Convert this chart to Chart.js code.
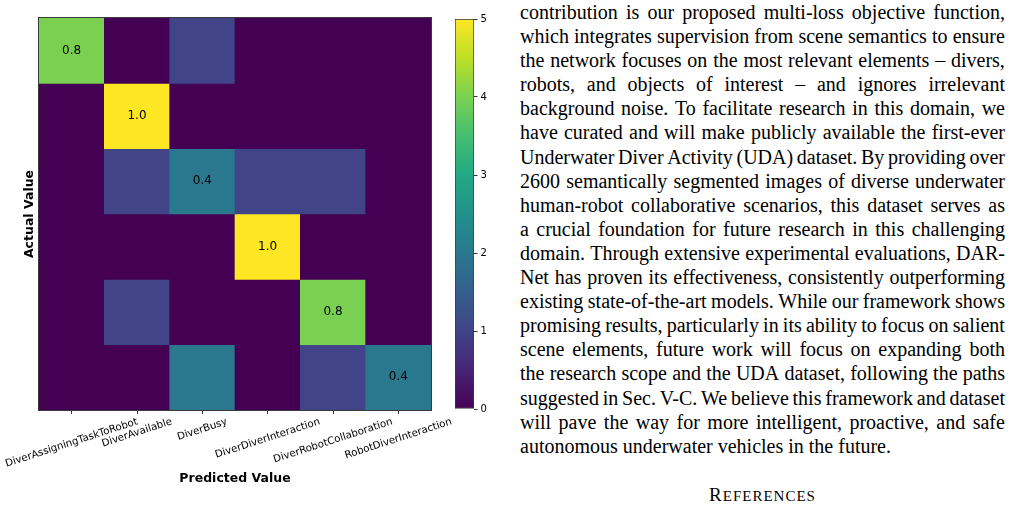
<!DOCTYPE html>
<html>
<head>
<meta charset="utf-8">
<script src="https://cdn.jsdelivr.net/npm/chart.js@4"></script>
<style>
body { margin: 0; background: #fff; width: 1017px; height: 509px; overflow: hidden; position: relative; }
#heat { position: absolute; left: 0; top: 0; }
#cbar { position: absolute; left: 440px; top: 0; }
#text { position: absolute; left: 520px; top: 0px; width: 485px; font-family: 'Liberation Serif', 'Times New Roman', serif; font-size: 20px; line-height: 24.1px; color: #000; }
#text .ln { display: flex; justify-content: space-between; white-space: nowrap; }
#text .last { white-space: nowrap; }
#refs { position: absolute; left: 520px; width: 485px; top: 483px; line-height: 24px; text-align: center; font-family: 'Liberation Serif', 'Times New Roman', serif; color: #000; }
#refs .big { font-size: 19px; letter-spacing: 1px; }
#refs .sc { font-size: 15px; letter-spacing: 1px; }
</style>
</head>
<body>
<canvas id="heat" width="500" height="509"></canvas>
<canvas id="cbar" width="60" height="509"></canvas>
<div id="text"></div>
<div id="refs"><span class="big">R</span><span class="sc">EFERENCES</span></div>
<script>
// data
const predicted = ['DiverAssigningTaskToRobot', 'DiverAvailable', 'DiverBusy', 'DiverDiverInteraction', 'DiverRobotCollaboration', 'RobotDiverInteraction']
const actual = ['DiverAssigningTaskToRobot', 'DiverAvailable', 'DiverBusy', 'DiverDiverInteraction', 'DiverRobotCollaboration', 'RobotDiverInteraction']
// counts, one row per actual class
const row_assign = [4, 0, 1, 0, 0, 0]
const row_avail = [0, 5, 0, 0, 0, 0]
const row_busy = [0, 1, 2, 1, 1, 0]
const row_dd = [0, 0, 0, 5, 0, 0]
const row_drc = [0, 1, 0, 0, 4, 0]
const row_rdi = [0, 0, 2, 0, 1, 2]
const counts = [row_assign, row_avail, row_busy, row_dd, row_drc, row_rdi]
const diag_text = ['0.8', '1.0', '0.4', '1.0', '0.8', '0.4']
const cbar_min = 0
const cbar_max = 5

const viridis = ['#440154', '#482475', '#414487', '#355f8d', '#2a788e', '#21918c', '#22a884', '#44bf70', '#7ad151', '#bddf26', '#fde725']

function hexToRgb(h) {
    return [parseInt(h.slice(1, 3), 16), parseInt(h.slice(3, 5), 16), parseInt(h.slice(5, 7), 16)]
}
function viridisColor(t) {
    t = Math.max(0, Math.min(1, t))
    const pos = t * (viridis.length - 1)
    const i = Math.min(Math.floor(pos), viridis.length - 2)
    const f = pos - i
    const a = hexToRgb(viridis[i]), b = hexToRgb(viridis[i + 1])
    const c = a.map((v, k) => Math.round(v + (b[k] - v) * f))
    return `rgb(${c[0]}, ${c[1]}, ${c[2]})`
}

// text column
const lines = [
    'contribution is our proposed multi-loss objective function,',
    'which integrates supervision from scene semantics to ensure',
    'the network focuses on the most relevant elements \u2013 divers,',
    'robots, and objects of interest \u2013 and ignores irrelevant',
    'background noise. To facilitate research in this domain, we',
    'have curated and will make publicly available the first-ever',
    'Underwater Diver Activity (UDA) dataset. By providing over',
    '2600 semantically segmented images of diverse underwater',
    'human-robot collaborative scenarios, this dataset serves as',
    'a crucial foundation for future research in this challenging',
    'domain. Through extensive experimental evaluations, DAR-',
    'Net has proven its effectiveness, consistently outperforming',
    'existing state-of-the-art models. While our framework shows',
    'promising results, particularly in its ability to focus on salient',
    'scene elements, future work will focus on expanding both',
    'the research scope and the UDA dataset, following the paths',
    'suggested in Sec. V-C. We believe this framework and dataset',
    'will pave the way for more intelligent, proactive, and safe',
    'autonomous underwater vehicles in the future.'
]
const textBox = document.getElementById('text')
lines.forEach((line, i) => {
    const div = document.createElement('div')
    if (i === lines.length - 1) {
        div.className = 'last'
        div.textContent = line
    } else {
        div.className = 'ln'
        line.split(' ').forEach(w => {
            const s = document.createElement('span')
            s.textContent = w
            div.appendChild(s)
        })
    }
    textBox.appendChild(div)
})

// heatmap extras: background, annotations, frame, labels
const heatExtras = {
    id: 'heatExtras',
    beforeDatasetsDraw(chart) {
        const ctx = chart.ctx, a = chart.chartArea
        ctx.save()
        ctx.fillStyle = viridisColor(0)
        ctx.fillRect(a.left, a.top, a.width, a.height)
        ctx.restore()
    },
    afterDatasetsDraw(chart) {
        const ctx = chart.ctx, a = chart.chartArea
        ctx.save()
        ctx.font = '12px "DejaVu Sans"'
        ctx.fillStyle = '#000'
        ctx.textAlign = 'center'
        ctx.textBaseline = 'middle'
        diag_text.forEach((t, i) => {
            const p = chart.getDatasetMeta(i).data[i].getCenterPoint()
            ctx.fillText(t, p.x, p.y)
        })
        ctx.strokeStyle = '#3a3a3a'
        ctx.lineWidth = 1
        ctx.strokeRect(a.left - 0.5, a.top - 0.5, a.width + 1, a.height + 1)
        ctx.restore()
    },
    afterDraw(chart) {
        const ctx = chart.ctx, a = chart.chartArea
        const xs = chart.scales.x
        const th = 18 * Math.PI / 180
        ctx.save()
        ctx.fillStyle = '#000'
        ctx.font = '10.2px "DejaVu Sans"'
        ctx.textAlign = 'center'
        ctx.textBaseline = 'middle'
        predicted.forEach((lab, i) => {
            const x = xs.getPixelForValue(i)
            const w = ctx.measureText(lab).width
            const H = w * Math.sin(th) + 11.5 * Math.cos(th)
            ctx.save()
            ctx.translate(x, a.bottom + 6 + H / 2)
            ctx.rotate(-th)
            ctx.fillText(lab, 0, 0)
            ctx.restore()
        })
        ctx.font = 'bold 12.5px "DejaVu Sans"'
        ctx.fillText('Predicted Value', (a.left + a.right) / 2, 479)
        ctx.translate(30, (a.top + a.bottom) / 2)
        ctx.rotate(-Math.PI / 2)
        ctx.fillText('Actual Value', 0, 0)
        ctx.restore()
    }
}

const heat = new Chart(document.getElementById('heat'), {
    type: 'bar',
    data: {
        labels: predicted,
        datasets: actual.map((name, r) => ({
            label: name,
            data: predicted.map(() => 1),
            backgroundColor: counts[r].map(v => viridisColor((v - cbar_min) / (cbar_max - cbar_min))),
            borderWidth: 0,
            barPercentage: 1,
            categoryPercentage: 1
        }))
    },
    options: {
        responsive: false,
        animation: false,
        layout: { padding: { left: 39, top: 18, right: 69, bottom: 0 } },
        plugins: { legend: { display: false }, tooltip: { enabled: false } },
        scales: {
            x: {
                stacked: true,
                offset: true,
                grid: { display: true, drawOnChartArea: false, drawTicks: true, tickLength: 4, offset: false, color: '#333', tickColor: '#333' },
                border: { display: false },
                ticks: { display: false },
                afterFit(s) { s.height = 99 }
            },
            y: { display: false, stacked: true, min: 0, max: 6, reverse: true }
        }
    },
    plugins: [heatExtras]
})

// colour bar
const cbar = new Chart(document.getElementById('cbar'), {
    type: 'bar',
    data: {
        labels: [''],
        datasets: [{
            data: [[cbar_min, cbar_max]],
            backgroundColor: c => {
                const area = c.chart.chartArea
                if (!area) return viridis[0]
                const g = c.chart.ctx.createLinearGradient(0, area.bottom, 0, area.top)
                viridis.forEach((col, i) => g.addColorStop(i / (viridis.length - 1), col))
                return g
            },
            borderColor: '#3a3a3a',
            borderWidth: 1,
            borderSkipped: false,
            barPercentage: 1,
            categoryPercentage: 1
        }]
    },
    options: {
        responsive: false,
        animation: false,
        layout: { padding: { left: 15, top: 19, right: 0, bottom: 100 } },
        plugins: { legend: { display: false }, tooltip: { enabled: false } },
        scales: {
            x: { display: false },
            y: {
                position: 'right',
                min: cbar_min,
                max: cbar_max,
                ticks: { stepSize: 1, padding: 3, color: '#000', font: { family: 'DejaVu Sans', size: 10 } },
                grid: { drawOnChartArea: false, tickLength: 3.5, color: '#333' },
                border: { display: false },
                afterFit(s) { s.width = 26 }
            }
        }
    }
})
</script>
</body>
</html>
